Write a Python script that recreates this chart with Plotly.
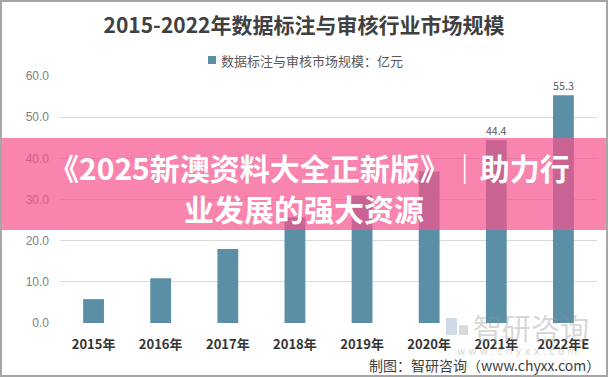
import plotly.graph_objects as go

categories = ["2015年", "2016年", "2017年", "2018年", "2019年", "2020年", "2021年", "2022年E"]
values = [5.8, 10.9, 18.0, 25.7, 31.0, 36.8, 44.4, 55.3]
labels = ["", "", "", "", "", "", "44.4", "55.3"]
y_ticks = [0, 10, 20, 30, 40, 50, 60]
y_tick_text = ["0.0", "10.0", "20.0", "30.0", "40.0", "50.0", "60.0"]
series_name = "数据标注与审核市场规模：亿元"
title_text = "2015-2022年数据标注与审核行业市场规模"
banner_line1 = "《2025新澳资料大全正新版》｜助力行"
banner_line2 = "业发展的强大资源"
source_text = "制图：智研咨询（www.chyxx.com）"

W_PX, H_PX = 608, 377
L, R, T, B = 60, 597, 76, 323
PW, PH = R - L, B - T


def px2x(px):
    return (px - L) / PW


def py2y(py):
    return (B - py) / PH


CJK = "Noto Sans CJK SC"
bar_color = "#5a8fa6"

fig = go.Figure()
fig.add_trace(go.Bar(
    x=categories, y=values, name=series_name,
    marker=dict(color=bar_color, line=dict(width=0)),
    width=0.31,
    text=labels, textposition="outside",
    textfont=dict(family=CJK, size=12, color="#595959"),
    cliponaxis=False, showlegend=False,
))

fig.update_layout(
    width=W_PX, height=H_PX, autosize=False,
    margin=dict(l=L, r=W_PX - R, t=T, b=H_PX - B, pad=0, autoexpand=False),
    paper_bgcolor="white", plot_bgcolor="white",
    title=dict(text="<b>" + title_text + "</b>", x=0.5, xanchor="center",
               xref="container", y=1 - 26 / H_PX, yref="container", yanchor="middle",
               font=dict(family=CJK, size=21, color="#404040")),
    showlegend=False,
    xaxis=dict(type="category", tickmode="array", tickvals=categories,
               ticktext=["<b>" + c + "</b>" for c in categories],
               tickfont=dict(family=CJK, size=13, color="#333333"),
               showgrid=False, zeroline=False, showline=False, ticks="",
               ticklabelstandoff=12, automargin=False),
    yaxis=dict(range=[0, 60], tickmode="array", tickvals=y_ticks, ticktext=y_tick_text,
               tickfont=dict(family="Liberation Sans", size=12, color="#808080"),
               showgrid=True, gridcolor="#d9d9d9", gridwidth=1,
               zeroline=False, showline=False, ticks="", ticklabelstandoff=10,
               automargin=False),
)

shapes = []
# legend swatch
shapes.append(dict(type="rect", xref="paper", yref="paper",
                   x0=px2x(208), x1=px2x(216), y0=py2y(64), y1=py2y(56),
                   fillcolor=bar_color, line=dict(width=0), layer="above"))
# watermark logo (rough)
shapes.append(dict(type="rect", xref="paper", yref="paper",
                   x0=px2x(446), x1=px2x(457), y0=py2y(335), y1=py2y(318),
                   fillcolor="rgba(120,150,185,0.35)", line=dict(width=0), layer="above"))
shapes.append(dict(type="rect", xref="paper", yref="paper",
                   x0=px2x(459), x1=px2x(468), y0=py2y(335), y1=py2y(325),
                   fillcolor="rgba(150,150,150,0.35)", line=dict(width=0), layer="above"))
# banner
shapes.append(dict(type="rect", xref="paper", yref="paper",
                   x0=px2x(0), x1=px2x(W_PX), y0=py2y(230), y1=py2y(138),
                   fillcolor="rgba(246,80,140,0.70)", line=dict(width=0), layer="above"))
# border
shapes.append(dict(type="rect", xref="paper", yref="paper",
                   x0=px2x(1), x1=px2x(W_PX - 1), y0=py2y(H_PX - 1), y1=py2y(1),
                   fillcolor="rgba(0,0,0,0)", line=dict(color="#a6a6a6", width=2), layer="above"))
fig.update_layout(shapes=shapes)

annotations = [
    dict(text=series_name, xref="paper", yref="paper", x=px2x(219), y=py2y(60),
         xanchor="left", yanchor="middle", showarrow=False,
         font=dict(family=CJK, size=13, color="#595959")),
    dict(text="智研咨询", xref="paper", yref="paper", x=px2x(531), y=py2y(327),
         xanchor="center", yanchor="middle", showarrow=False,
         font=dict(family=CJK, size=29, color="rgba(150,150,150,0.40)")),
    dict(text="w w w . c h y x x . c o m", xref="paper", yref="paper", x=px2x(517), y=py2y(351),
         xanchor="center", yanchor="middle", showarrow=False,
         font=dict(family="DejaVu Sans", size=10, color="rgba(150,150,150,0.40)")),
    dict(text=source_text, xref="paper", yref="paper", x=px2x(602), y=py2y(365),
         xanchor="right", yanchor="middle", showarrow=False,
         font=dict(family=CJK, size=14, color="#404040")),
    dict(text="<b>" + banner_line1 + "</b>", xref="paper", yref="paper", x=px2x(309), y=py2y(167),
         xanchor="center", yanchor="middle", showarrow=False,
         font=dict(family=CJK, size=30, color="white")),
    dict(text="<b>" + banner_line2 + "</b>", xref="paper", yref="paper", x=px2x(304), y=py2y(208),
         xanchor="center", yanchor="middle", showarrow=False,
         font=dict(family=CJK, size=30, color="white")),
]
fig.update_layout(annotations=annotations)

fig.write_html("out.html", config={"displayModeBar": False},
               post_script="document.body.style.margin='0';document.body.style.overflow='hidden';")
